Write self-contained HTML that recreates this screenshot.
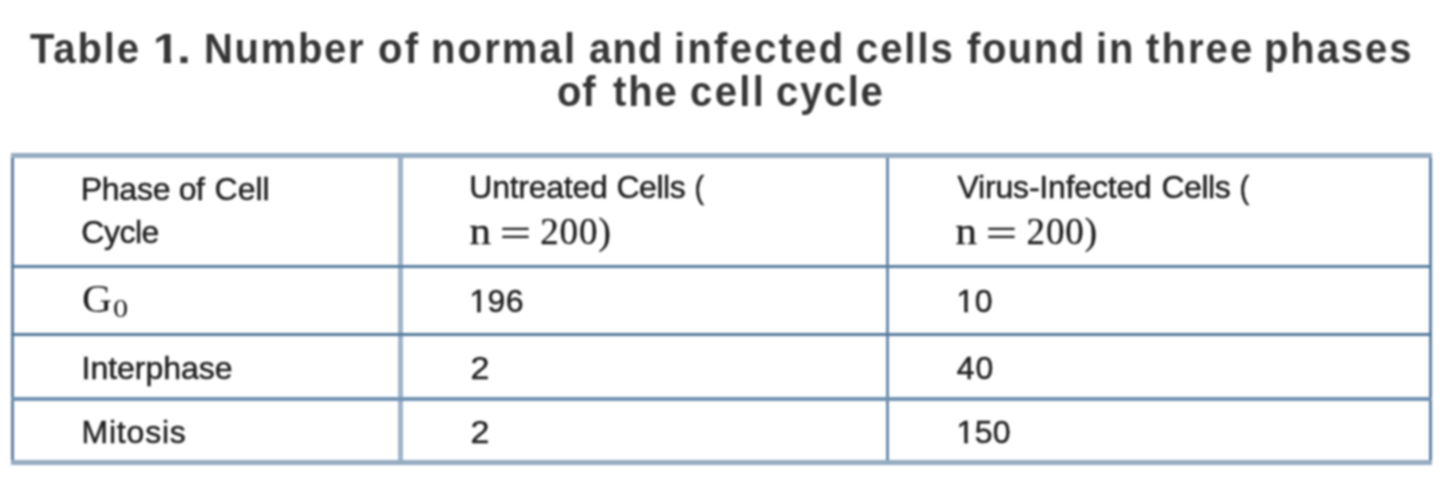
<!DOCTYPE html>
<html lang="en">
<head>
<meta charset="utf-8">
<title>Table 1</title>
<style>
  html, body { margin:0; padding:0; background:#fff; }
  body { width:1440px; height:486px; position:relative; overflow:hidden;
         font-family:"Liberation Sans", sans-serif; }
  #wrap { position:absolute; left:0; top:0; width:1440px; height:486px; filter:blur(0.8px); }
  h3, table, th, td { margin:0; padding:0; border:0; font:inherit; }
  table { border-collapse:collapse; width:0; height:0; }
  .h, .t, .m { position:absolute; white-space:nowrap; display:block; }
  .h { font-family:"Liberation Sans", sans-serif; font-weight:bold; font-size:43px; line-height:44px; color:#363636; }
  .t { font-family:"Liberation Sans", sans-serif; font-size:32px; line-height:36px; color:#1f1f1f; -webkit-text-stroke:0.5px #1f1f1f; }
  .m { font-family:"Liberation Serif", serif; font-size:37px; line-height:40px; color:#1c1c1c; -webkit-text-stroke:0.3px #1c1c1c; }
  .one { display:inline-block; clip-path:polygon(0 0,100% 0,100% 25.4px,11.25px 25.4px,11.25px 100%,7.7px 100%,7.7px 25.4px,0 25.4px); }
  .line { position:absolute; background:#5f88ad; }
</style>
</head>
<body>
<div id="wrap">
<!-- caption -->
<h3>
<span class="h" id="w1" style="left:29.5px;top:25.8px;transform:scaleX(0.93);transform-origin:0 50%;letter-spacing:2.03px;">Table</span>
<span class="h" id="w2" style="left:153.6px;top:25.8px;transform:scaleX(1.100);transform-origin:9.5px 50%;clip-path:polygon(0 0,100% 0,100% 31.6px,16.3px 31.6px,16.3px 100%,9.7px 100%,9.7px 31.6px,0 31.6px);">1</span>
<span class="h" id="w3" style="left:178.2px;top:25.8px;transform:scaleX(1.167);transform-origin:6.0px 50%;">.</span>
<span class="h" id="w4" style="left:203.5px;top:25.8px;transform:scaleX(0.93);transform-origin:0 50%;letter-spacing:1.83px;">Number</span>
<span class="h" id="w5" style="left:378.1px;top:25.8px;transform:scaleX(0.93);transform-origin:0 50%;letter-spacing:2.60px;">of</span>
<span class="h" id="w6" style="left:431.3px;top:25.8px;transform:scaleX(0.93);transform-origin:0 50%;letter-spacing:2.30px;">normal</span>
<span class="h" id="w7" style="left:588.8px;top:25.8px;transform:scaleX(0.93);transform-origin:0 50%;letter-spacing:1.30px;">and</span>
<span class="h" id="w8" style="left:674.0px;top:25.8px;transform:scaleX(0.93);transform-origin:0 50%;letter-spacing:2.45px;">infected</span>
<span class="h" id="w9" style="left:855.8px;top:25.8px;transform:scaleX(0.93);transform-origin:0 50%;letter-spacing:2.08px;">cells</span>
<span class="h" id="w10" style="left:966.5px;top:25.8px;transform:scaleX(0.93);transform-origin:0 50%;letter-spacing:1.68px;">found</span>
<span class="h" id="w11" style="left:1096.1px;top:25.8px;transform:scaleX(0.93);transform-origin:0 50%;letter-spacing:2.16px;">in</span>
<span class="h" id="w12" style="left:1145.7px;top:25.8px;transform:scaleX(0.93);transform-origin:0 50%;letter-spacing:2.26px;">three</span>
<span class="h" id="w13" style="left:1264.3px;top:25.8px;transform:scaleX(0.93);transform-origin:0 50%;letter-spacing:2.07px;">phases</span>
<br>
<span class="h" id="v1" style="left:557.2px;top:69.0px;transform:scaleX(0.93);transform-origin:0 50%;letter-spacing:1.00px;">of</span>
<span class="h" id="v2" style="left:612.7px;top:69.0px;transform:scaleX(0.93);transform-origin:0 50%;letter-spacing:2.06px;">the</span>
<span class="h" id="v3" style="left:689.8px;top:69.0px;transform:scaleX(0.93);transform-origin:0 50%;letter-spacing:2.60px;">cell</span>
<span class="h" id="v4" style="left:775.9px;top:69.0px;transform:scaleX(0.93);transform-origin:0 50%;letter-spacing:1.82px;">cycle</span>
</h3>

<!-- table borders -->
<div class="line" style="left:11.35px; top:152.8px; width:2.9px; height:311.8px; background:#5e82a3;"></div>
<div class="line" style="left:398.05px; top:152.8px; width:5.3px; height:311.8px; background:#9fb4c7;"></div>
<div class="line" style="left:886.10px; top:152.8px; width:3.2px; height:311.8px; background:#6a8cab;"></div>
<div class="line" style="left:1428.50px; top:152.8px; width:3.0px; height:311.8px; background:#5e82a3;"></div>
<div class="line" style="left:11.2px; top:152.50px; width:1420.4px; height:5.4px; background:#94abc0;"></div>
<div class="line" style="left:11.2px; top:264.90px; width:1420.4px; height:3.0px; background:#587e9f;"></div>
<div class="line" style="left:11.2px; top:333.25px; width:1420.4px; height:2.7px; background:#55799b;"></div>
<div class="line" style="left:11.2px; top:397.00px; width:1420.4px; height:3.6px; background:#7192b0;"></div>
<div class="line" style="left:11.2px; top:459.80px; width:1420.4px; height:5.4px; background:#94abc0;"></div>

<table>
<thead>
<tr>
<th>
<span class="t" id="c11a" style="left:80.7px;top:171.2px;letter-spacing:-0.23px;">Phase</span>
<span class="t" id="c11c" style="left:178.7px;top:171.2px;letter-spacing:-0.50px;">of</span>
<span class="t" id="c11d" style="left:214.6px;top:171.2px;letter-spacing:-0.03px;">Cell</span>
<span class="t" id="c11b" style="left:81.3px;top:213.8px;letter-spacing:-0.50px;">Cycle</span>
</th>
<th>
<span class="t" id="c12a" style="left:469.3px;top:168.7px;letter-spacing:-0.25px;">Untreated</span>
<span class="t" id="c12b" style="left:616.5px;top:168.7px;letter-spacing:-0.50px;">Cells</span>
<span class="t" id="c12c" style="left:694.1px;top:168.7px;transform:scaleX(0.900);transform-origin:6.0px 50%;">(</span>
<span class="m" id="c12n" style="left:470.9px;top:212.0px;transform:scaleX(1.165);transform-origin:9.5px 50%;">n</span>
<span class="m" id="c12e" style="left:504.9px;top:214.2px;transform:scaleX(1.500);transform-origin:10.5px 50%;">=</span>
<span class="m" id="c12d" style="left:540.2px;top:212.0px;letter-spacing:0.93px;">200)</span>
</th>
<th>
<span class="t" id="c13a" style="left:957.5px;top:168.7px;letter-spacing:-0.19px;">Virus-Infected</span>
<span class="t" id="c13b" style="left:1161.4px;top:168.7px;letter-spacing:-0.45px;">Cells</span>
<span class="t" id="c13c" style="left:1239.3px;top:168.7px;transform:scaleX(0.912);transform-origin:6.0px 50%;">(</span>
<span class="m" id="c13n" style="left:957.2px;top:212.0px;transform:scaleX(1.165);transform-origin:9.5px 50%;">n</span>
<span class="m" id="c13e" style="left:991.2px;top:214.2px;transform:scaleX(1.500);transform-origin:10.5px 50%;">=</span>
<span class="m" id="c13d" style="left:1026.5px;top:212.0px;letter-spacing:0.93px;">200)</span>
</th>
</tr>
</thead>
<tbody>
<tr>
<td>
<span class="m" id="c21g" style="left:83.2px;top:278.6px;font-size:39px;transform:scaleX(1.064);transform-origin:14.5px 50%;-webkit-text-stroke:0;">G</span>
<span class="m" id="c21s" style="left:113.5px;top:289.3px;font-size:26px;transform:scaleX(1.164);transform-origin:6.5px 50%;-webkit-text-stroke:0;">0</span>
</td>
<td>
<span class="t" id="c22" style="left:469.5px;top:283.3px;letter-spacing:0.30px;"><span class="one">1</span>96</span>
</td>
<td>
<span class="t" id="c23" style="left:956.6px;top:283.3px;letter-spacing:0.40px;"><span class="one">1</span>0</span>
</td>
</tr>
<tr>
<td>
<span class="t" id="c31" style="left:81.5px;top:349.5px;letter-spacing:-0.01px;">Interphase</span>
</td>
<td>
<span class="t" id="c32" style="left:470.5px;top:349.5px;transform:scaleX(1.064);transform-origin:9.0px 50%;">2</span>
</td>
<td>
<span class="t" id="c33" style="left:956.8px;top:349.5px;letter-spacing:0.80px;">40</span>
</td>
</tr>
<tr>
<td>
<span class="t" id="c41" style="left:81.5px;top:413.5px;letter-spacing:0.80px;">Mitosis</span>
</td>
<td>
<span class="t" id="c42" style="left:470.5px;top:413.5px;transform:scaleX(1.064);transform-origin:9.0px 50%;">2</span>
</td>
<td>
<span class="t" id="c43" style="left:956.6px;top:413.5px;letter-spacing:0.25px;"><span class="one">1</span>50</span>
</td>
</tr>
</tbody>
</table>

</div>
</body>
</html>
